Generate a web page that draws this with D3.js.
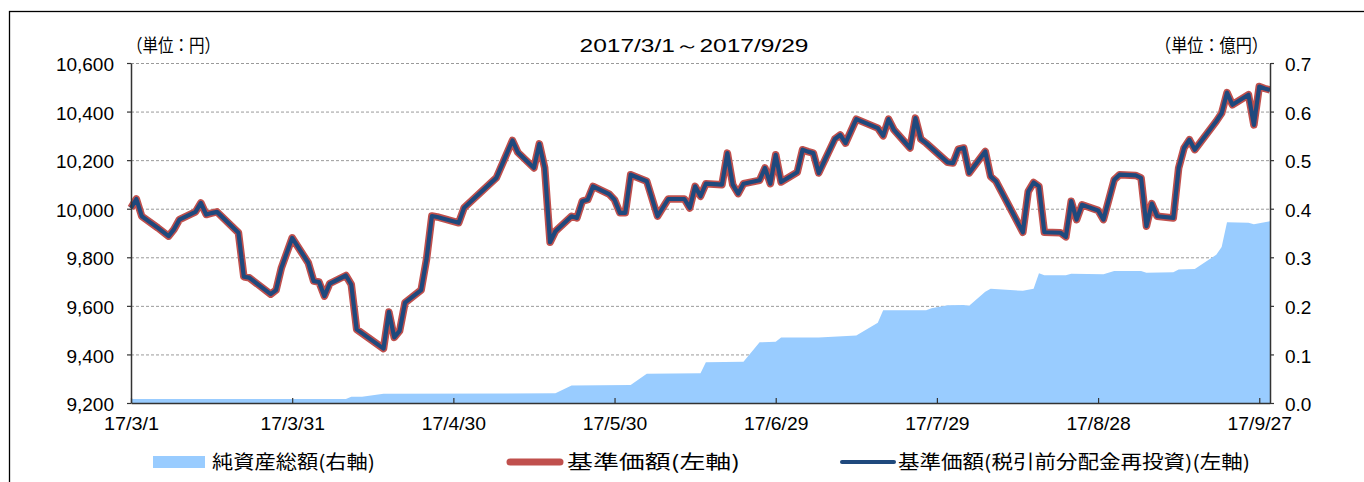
<!DOCTYPE html>
<meta charset="utf-8">
<html>
<style>
  body { margin: 0; background: #fff; }
  .chart text { fill: #000; }
  .num { font-family: "Liberation Sans", Arial, sans-serif; font-size: 19px; }
  .jp { font-family: "Noto Sans CJK JP", sans-serif; }
</style>
<script src="https://cdn.jsdelivr.net/npm/d3@7"></script>
<body>
  <svg class="chart"></svg>
</body>
<script>
  var width = 1364;
  var height = 482;

  // 基準価額 (円) — 税引前分配金再投資 is the same series (no distribution in the period)
  var navDates = [
    "2017-03-01","2017-03-02","2017-03-03","2017-03-06","2017-03-08","2017-03-09","2017-03-10",
    "2017-03-13","2017-03-14","2017-03-15","2017-03-16","2017-03-17","2017-03-21","2017-03-22",
    "2017-03-23","2017-03-27","2017-03-28","2017-03-29","2017-03-31","2017-04-03","2017-04-04",
    "2017-04-05","2017-04-06","2017-04-07","2017-04-10","2017-04-11","2017-04-12","2017-04-17",
    "2017-04-18","2017-04-19","2017-04-20","2017-04-21","2017-04-24","2017-04-25","2017-04-26",
    "2017-04-27","2017-04-28","2017-05-01","2017-05-02","2017-05-08","2017-05-11","2017-05-12",
    "2017-05-15","2017-05-16","2017-05-17","2017-05-18","2017-05-19","2017-05-22","2017-05-23",
    "2017-05-24","2017-05-25","2017-05-26","2017-05-29","2017-05-30","2017-05-31","2017-06-01",
    "2017-06-02","2017-06-05","2017-06-07","2017-06-09","2017-06-12","2017-06-13","2017-06-14",
    "2017-06-15","2017-06-16","2017-06-19","2017-06-20","2017-06-21","2017-06-22","2017-06-23",
    "2017-06-26","2017-06-27","2017-06-28","2017-06-29","2017-06-30","2017-07-03","2017-07-04",
    "2017-07-05","2017-07-06","2017-07-07","2017-07-10","2017-07-11","2017-07-12","2017-07-14",
    "2017-07-18","2017-07-19","2017-07-20","2017-07-21","2017-07-24","2017-07-25","2017-07-26",
    "2017-07-27","2017-07-31","2017-08-01","2017-08-02","2017-08-03","2017-08-04","2017-08-07",
    "2017-08-08","2017-08-09","2017-08-14","2017-08-15","2017-08-16","2017-08-17","2017-08-18",
    "2017-08-21","2017-08-22","2017-08-23","2017-08-24","2017-08-25","2017-08-28","2017-08-29",
    "2017-08-31","2017-09-01","2017-09-04","2017-09-05","2017-09-06","2017-09-07","2017-09-08",
    "2017-09-11","2017-09-12","2017-09-13","2017-09-14","2017-09-15","2017-09-19","2017-09-20",
    "2017-09-21","2017-09-22","2017-09-25","2017-09-26","2017-09-27","2017-09-28","2017-09-29"
  ];
  var navValues = [
    10003,10040,9969,9921,9887,9915,9955,
    9987,10024,9976,9982,9987,9901,9720,
    9716,9648,9665,9757,9880,9777,9702,
    9698,9640,9692,9725,9688,9503,9424,
    9575,9470,9497,9613,9665,9791,9970,
    9966,9960,9942,10004,10127,10281,10232,
    10168,10267,10168,9862,9907,9969,9962,
    10031,10037,10092,10060,10037,9983,9983,
    10140,10113,9969,10040,10040,10003,10092,
    10051,10103,10099,10229,10099,10062,10103,
    10117,10168,10103,10222,10110,10150,10243,
    10235,10229,10147,10287,10304,10270,10369,
    10332,10300,10369,10325,10250,10373,10287,
    10270,10191,10188,10245,10250,10147,10236,
    10133,10113,9903,10071,10108,10092,9903,
    9901,9884,10031,9955,10016,9993,9955,
    10119,10140,10137,10127,9928,10021,9969,
    9962,10168,10250,10284,10243,10360,10393,
    10478,10428,10469,10345,10503,10495,10489
  ];
  var navReinvValues = navValues;

  // 純資産総額 (億円)
  var assetDates = [
    "2017-03-01","2017-04-10","2017-04-11","2017-04-13","2017-04-17","2017-05-19","2017-05-22",
    "2017-06-02","2017-06-05","2017-06-15","2017-06-16","2017-06-23","2017-06-26","2017-06-29",
    "2017-06-30","2017-07-07","2017-07-14","2017-07-18","2017-07-19","2017-07-27","2017-07-28",
    "2017-07-31","2017-08-03","2017-08-04","2017-08-07","2017-08-08","2017-08-14","2017-08-16",
    "2017-08-17","2017-08-18","2017-08-22","2017-08-23","2017-08-29","2017-08-31","2017-09-05",
    "2017-09-06","2017-09-11","2017-09-12","2017-09-15","2017-09-19","2017-09-20","2017-09-21",
    "2017-09-25","2017-09-26","2017-09-28","2017-09-29"
  ];
  var assetValues = [
    0.008,0.008,0.013,0.013,0.019,0.020,0.036,
    0.037,0.060,0.061,0.084,0.085,0.125,0.126,
    0.135,0.135,0.139,0.165,0.191,0.191,0.195,
    0.201,0.202,0.200,0.229,0.235,0.231,0.235,
    0.267,0.263,0.263,0.266,0.265,0.272,0.272,
    0.268,0.269,0.275,0.276,0.305,0.321,0.372,
    0.371,0.368,0.372,0.374
  ];

  var leftTicks = [9200, 9400, 9600, 9800, 10000, 10200, 10400, 10600];
  var rightTicks = [0, 0.1, 0.2, 0.3, 0.4, 0.5, 0.6, 0.7];
  var xTickDates = ["2017-03-01","2017-03-31","2017-04-30","2017-05-30","2017-06-29","2017-07-29","2017-08-28","2017-09-27"];

  var parse = d3.timeParse("%Y-%m-%d");
  var fmtX = d3.timeFormat("%y/%-m/%-d");

  var plotLeft = 131, plotRight = 1270, plotTop = 63, plotBottom = 403;

  var x = d3.scaleTime()
    .domain([parse("2017-03-01"), parse("2017-09-29")])
    .range([plotLeft, plotRight]);
  var y = d3.scaleLinear().domain([9200, 10600]).range([plotBottom, plotTop]);
  var y2 = d3.scaleLinear().domain([0, 0.7]).range([plotBottom, plotTop]);

  var chart = d3.select(".chart")
    .attr("width", width)
    .attr("height", height);

  // frame
  chart.append("rect")
    .attr("x", 9.5).attr("y", 11.5)
    .attr("width", 1400).attr("height", 500)
    .attr("fill", "none").attr("stroke", "#000").attr("stroke-width", 1.3);

  // gridlines
  chart.append("g").selectAll("line")
    .data(leftTicks.slice(1))
    .enter().append("line")
    .attr("x1", plotLeft).attr("x2", plotRight)
    .attr("y1", function(d) { return y(d) + 0.5; })
    .attr("y2", function(d) { return y(d) + 0.5; })
    .attr("stroke", "#9a9a9a")
    .attr("stroke-width", 1)
    .attr("stroke-dasharray", "3,2");

  // net assets area
  var assets = assetDates.map(function(d, i) { return { date: parse(d), v: assetValues[i] }; });
  chart.append("path")
    .datum(assets)
    .attr("fill", "#99CCFF")
    .attr("d", d3.area()
      .x(function(d) { return x(d.date); })
      .y0(plotBottom)
      .y1(function(d) { return y2(d.v); }));

  // nav lines
  var nav = navDates.map(function(d, i) { return { date: parse(d), v: navValues[i] }; });
  var navRe = navDates.map(function(d, i) { return { date: parse(d), v: navReinvValues[i] }; });
  var line = d3.line()
    .x(function(d) { return x(d.date); })
    .y(function(d) { return y(d.v); });

  chart.append("path")
    .datum(nav)
    .attr("fill", "none")
    .attr("stroke", "#C0504D")
    .attr("stroke-width", 7.5)
    .attr("stroke-linejoin", "round")
    .attr("d", line);
  chart.append("path")
    .datum(navRe)
    .attr("fill", "none")
    .attr("stroke", "#1F497D")
    .attr("stroke-width", 4.2)
    .attr("stroke-linejoin", "round")
    .attr("d", line);

  // axes
  var yAxis = chart.append("g")
    .attr("transform", "translate(" + plotLeft + ",0)")
    .call(d3.axisLeft(y).tickValues(leftTicks).tickFormat(d3.format(","))
      .tickSizeInner(4).tickSizeOuter(0).tickPadding(13));
  yAxis.selectAll("text").attr("class", "num").attr("dy", "0.4em");

  var y2Axis = chart.append("g")
    .attr("transform", "translate(" + plotRight + ",0)")
    .call(d3.axisRight(y2).tickValues(rightTicks).tickFormat(d3.format(".1f"))
      .tickSizeInner(4).tickSizeOuter(0).tickPadding(11));
  y2Axis.selectAll("text").attr("class", "num").attr("dy", "0.4em");

  var xAxis = chart.append("g")
    .attr("transform", "translate(0," + plotBottom + ")")
    .call(d3.axisBottom(x).tickValues(xTickDates.map(parse)).tickFormat(fmtX)
      .tickSizeInner(-5).tickSizeOuter(0).tickPadding(14));
  xAxis.selectAll("text")
    .attr("class", "num")
    .attr("textLength", function(d) { return fmtX(d).length * 9.2; })
    .attr("lengthAdjust", "spacingAndGlyphs");

  chart.selectAll(".domain").attr("stroke", "#333").attr("stroke-width", 1.5);
  chart.selectAll(".tick line").attr("stroke", "#333").attr("stroke-width", 1.2);

  // titles
  chart.append("text").attr("class", "num")
    .attr("x", 694).attr("y", 52).attr("text-anchor", "middle")
    .style("font-size", "18px")
    .attr("textLength", 229).attr("lengthAdjust", "spacingAndGlyphs")
    .text("2017/3/1～2017/9/29");
  chart.append("text").attr("class", "jp")
    .attr("x", 127).attr("y", 52).style("font-size", "18px")
    .attr("textLength", 93).attr("lengthAdjust", "spacingAndGlyphs")
    .text("（単位：円）");
  chart.append("text").attr("class", "jp")
    .attr("x", 1268).attr("y", 52).attr("text-anchor", "end").style("font-size", "18px")
    .attr("textLength", 113).attr("lengthAdjust", "spacingAndGlyphs")
    .text("（単位：億円）");

  // legend
  var legend = chart.append("g").attr("class", "jp");
  legend.append("rect")
    .attr("x", 153).attr("y", 456).attr("width", 52).attr("height", 12)
    .attr("fill", "#99CCFF");
  legend.append("text")
    .attr("x", 212).attr("y", 469).style("font-size", "19px")
    .attr("textLength", 163).attr("lengthAdjust", "spacingAndGlyphs")
    .text("純資産総額(右軸)");
  legend.append("line")
    .attr("x1", 510).attr("x2", 560).attr("y1", 462).attr("y2", 462)
    .attr("stroke", "#C0504D").attr("stroke-width", 7).attr("stroke-linecap", "round");
  legend.append("text")
    .attr("x", 567).attr("y", 469).style("font-size", "19px")
    .attr("textLength", 173).attr("lengthAdjust", "spacingAndGlyphs")
    .text("基準価額(左軸)");
  legend.append("line")
    .attr("x1", 842).attr("x2", 894).attr("y1", 462).attr("y2", 462)
    .attr("stroke", "#1F497D").attr("stroke-width", 4).attr("stroke-linecap", "round");
  legend.append("text")
    .attr("x", 898).attr("y", 469).style("font-size", "19px")
    .attr("textLength", 352).attr("lengthAdjust", "spacingAndGlyphs")
    .text("基準価額(税引前分配金再投資)(左軸)");
</script>

</html>
